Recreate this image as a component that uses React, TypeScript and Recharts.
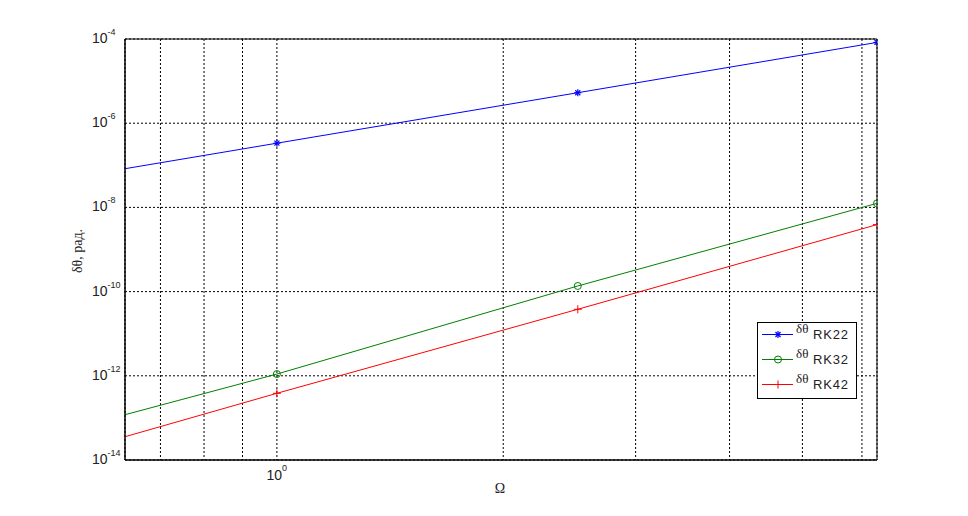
import React from 'react';
import { LineChart, Line, XAxis, YAxis, CartesianGrid, Legend, ReferenceArea } from 'recharts';

// Ω values (0.2π, 1, 0.8π, 2π)
const omega = [0.628, 1, 2.513, 6.283];
const rk22 = [8.3e-8, 3.35e-7, 5.3e-6, 8.3e-5];
const rk32 = [1.19e-13, 1.1e-12, 1.36e-10, 1.25e-8];
const rk42 = [3.57e-14, 3.84e-13, 3.8e-11, 3.9e-9];

const xTicks = [0.7, 0.8, 0.9, 1, 2, 3, 4, 5, 6];
const yTicks = [1e-14, 1e-12, 1e-10, 1e-8, 1e-6, 1e-4];

const series = [
  { key: 'rk22', name: 'RK22', color: '#0000ff', marker: 'star' },
  { key: 'rk32', name: 'RK32', color: '#008000', marker: 'circle' },
  { key: 'rk42', name: 'RK42', color: '#ff0000', marker: 'plus' },
];

const data = omega.map((w, i) => ({ omega: w, rk22: rk22[i], rk32: rk32[i], rk42: rk42[i] }));

const tickFont = '"Liberation Sans", Arial, sans-serif';
const serifFont = '"Liberation Serif", "Times New Roman", serif';

const Marker = ({ type, cx, cy, color }: any) => {
  if (type === 'circle') {
    return <circle cx={cx} cy={cy} r={3.5} fill="none" stroke={color} strokeWidth={1} />;
  }
  if (type === 'plus') {
    return (
      <g stroke={color} strokeWidth={1}>
        <line x1={cx - 4} y1={cy} x2={cx + 4} y2={cy} />
        <line x1={cx} y1={cy - 4} x2={cx} y2={cy + 4} />
      </g>
    );
  }
  return (
    <g stroke={color} strokeWidth={1.2}>
      <line x1={cx - 3.5} y1={cy} x2={cx + 3.5} y2={cy} />
      <line x1={cx} y1={cy - 3.5} x2={cx} y2={cy + 3.5} />
      <line x1={cx - 2.5} y1={cy - 2.5} x2={cx + 2.5} y2={cy + 2.5} />
      <line x1={cx - 2.5} y1={cy + 2.5} x2={cx + 2.5} y2={cy - 2.5} />
    </g>
  );
};

const makeDot = (type: string, color: string) => (props: any) => {
  const { cx, cy, index } = props;
  // first point sits on the left edge and has no marker
  if (index === 0 || cx == null || cy == null) return <g key={`d-${type}-${index}`} />;
  return (
    <g key={`d-${type}-${index}`}>
      <Marker type={type} cx={cx} cy={cy} color={color} />
    </g>
  );
};

const YTick = (props: any) => {
  const { y, payload } = props;
  const exp = Math.round(Math.log10(payload.value));
  return (
    <text x={92} y={y + 4} fill="#222" fontFamily={tickFont} fontSize={14}>
      <tspan>10</tspan>
      <tspan dy={-8} fontSize={9}>{exp}</tspan>
    </text>
  );
};

const XTick = (props: any) => {
  const { x, payload } = props;
  if (payload.value !== 1) return <g />;
  return (
    <text x={x - 10.5} y={480} fill="#222" fontFamily={tickFont} fontSize={14}>
      <tspan>10</tspan>
      <tspan dy={-9} fontSize={9}>0</tspan>
    </text>
  );
};

const LegendBox = () => (
  <svg width={100} height={78} style={{ display: 'block', overflow: 'visible' }}>
    <rect x={0.5} y={0.5} width={99} height={76} fill="#fff" stroke="#000" strokeWidth={1} />
    {series.map((s, i) => {
      const cy = 12.5 + i * 25;
      return (
        <g key={s.key}>
          <line x1={5} y1={cy} x2={36} y2={cy} stroke={s.color} strokeWidth={1} />
          <Marker type={s.marker} cx={21} cy={cy} color={s.color} />
          <text x={39} y={cy - 2} fontFamily={serifFont} fontSize={13} fill="#222">δθ</text>
          <text x={56} y={cy + 4} fontFamily={tickFont} fontSize={13} letterSpacing={0.8} fill="#222">{s.name}</text>
        </g>
      );
    })}
  </svg>
);

export default function App() {
  return (
    <div style={{ position: 'absolute', left: 0, top: 0, width: 968, height: 516, background: '#fff' }}>
      <LineChart width={968} height={516} data={data} margin={{ top: 39, right: 91, bottom: 0, left: 0 }}>
        <CartesianGrid stroke="#000" strokeDasharray="2 2" strokeWidth={1} />
        <XAxis
          dataKey="omega"
          type="number"
          scale="log"
          domain={[0.628, 6.283]}
          ticks={xTicks}
          interval={0}
          allowDataOverflow
          axisLine={{ stroke: '#000' }}
          tickLine={false}
          height={56}
          tick={<XTick />}
        />
        <YAxis
          type="number"
          scale="log"
          domain={[1e-14, 1e-4]}
          ticks={yTicks}
          interval={0}
          allowDataOverflow
          axisLine={{ stroke: '#000' }}
          tickLine={false}
          width={125}
          tick={<YTick />}
        />
        <ReferenceArea x1={0.628} x2={6.283} y1={1e-14} y2={1e-4} fill="none" stroke="#000" strokeWidth={1} ifOverflow="visible" />
        {series.map((s) => (
          <Line
            key={s.key}
            dataKey={s.key}
            name={s.name}
            stroke={s.color}
            strokeWidth={1}
            dot={makeDot(s.marker, s.color)}
            activeDot={false}
            isAnimationActive={false}
          />
        ))}
        <Legend
          layout="vertical"
          align="center"
          verticalAlign="middle"
          content={<LegendBox />}
          wrapperStyle={{ position: 'absolute', left: 757, top: 322, width: 100, height: 78 }}
        />
      </LineChart>
      <svg width={968} height={516} style={{ position: 'absolute', left: 0, top: 0, pointerEvents: 'none' }}>
        <text
          transform="translate(82, 251) rotate(-90)"
          textAnchor="middle"
          fontFamily={serifFont}
          fontSize={14}
          fill="#222"
        >
          δθ, рад.
        </text>
        <text x={500} y={493} textAnchor="middle" fontFamily={serifFont} fontSize={14} fill="#222">Ω</text>
      </svg>
    </div>
  );
}
